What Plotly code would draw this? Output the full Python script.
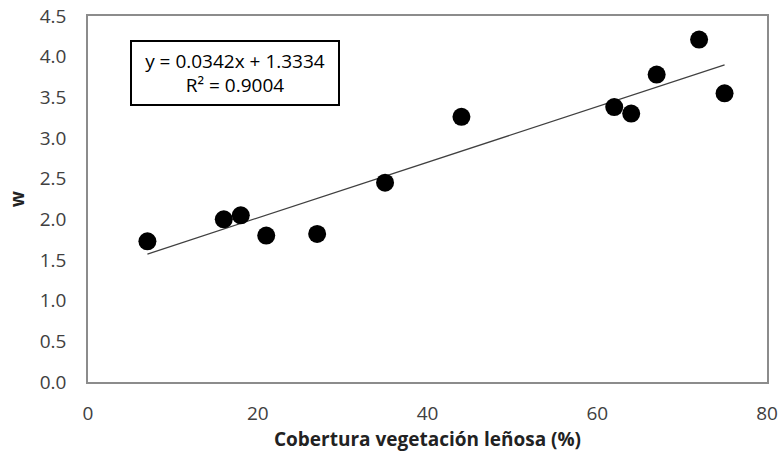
import plotly.graph_objects as go

# Data
cobertura = [7, 16, 18, 21, 27, 35, 44, 62, 64, 67, 72, 75]
w_values = [1.73, 2.00, 2.05, 1.80, 1.82, 2.45, 3.26, 3.38, 3.30, 3.78, 4.21, 3.55]

slope = 0.0342
intercept = 1.3334
r2 = 0.9004

x_ticks = [0, 20, 40, 60, 80]
y_ticks = [0.0, 0.5, 1.0, 1.5, 2.0, 2.5, 3.0, 3.5, 4.0, 4.5]

x_min, x_max = min(cobertura), max(cobertura)
trend_x = [x_min, x_max]
trend_y = [slope * v + intercept for v in trend_x]

font_family = "Open Sans, Liberation Sans, sans-serif"
tick_color = "#404040"

fig = go.Figure()
fig.add_trace(go.Scatter(
    x=trend_x, y=trend_y, mode="lines",
    line=dict(color="#404040", width=1.2),
    showlegend=False, hoverinfo="skip",
))
fig.add_trace(go.Scatter(
    x=cobertura, y=w_values, mode="markers",
    marker=dict(color="black", size=18),
    showlegend=False,
))

fig.add_annotation(
    x=5.0, y=4.21, xref="x", yref="y",
    xanchor="left", yanchor="top",
    text=f"y = {slope}x + {intercept}<br>R² = {r2}",
    showarrow=False,
    font=dict(family=font_family, size=19, color="black"),
    bordercolor="black", borderwidth=2, borderpad=2,
    bgcolor="white", align="center",
    width=202, height=58,
)

fig.update_layout(
    width=783, height=462,
    margin=dict(l=88, r=16, t=16, b=80, autoexpand=False),
    paper_bgcolor="white", plot_bgcolor="white",
    font=dict(family=font_family, size=19, color=tick_color),
)
fig.update_xaxes(
    range=[0, 80], tickvals=x_ticks, showgrid=False, zeroline=False,
    automargin=False,
    showline=True, linecolor="#8c8c8c", linewidth=1.5, mirror=True,
    ticks="outside", ticklen=13, tickcolor="rgba(0,0,0,0)",
    tickfont=dict(size=19, color=tick_color),
    title=dict(text="<b>Cobertura vegetación leñosa (%)</b>",
               font=dict(size=19, color="#222222"), standoff=6),
)
fig.update_yaxes(
    range=[0, 4.5], tickvals=y_ticks, tickformat=".1f", showgrid=False,
    zeroline=False, automargin=False,
    showline=True, linecolor="#8c8c8c", linewidth=1.5, mirror=True,
    ticks="outside", ticklen=16, tickcolor="rgba(0,0,0,0)",
    tickfont=dict(size=19, color=tick_color),
    title=dict(text="<b>w</b>", font=dict(size=19, color="#222222"),
               standoff=10),
)

fig.write_html(
    "out.html",
    config={"displayModeBar": False},
    post_script="document.body.style.margin='0';document.body.style.overflow='hidden';",
)
